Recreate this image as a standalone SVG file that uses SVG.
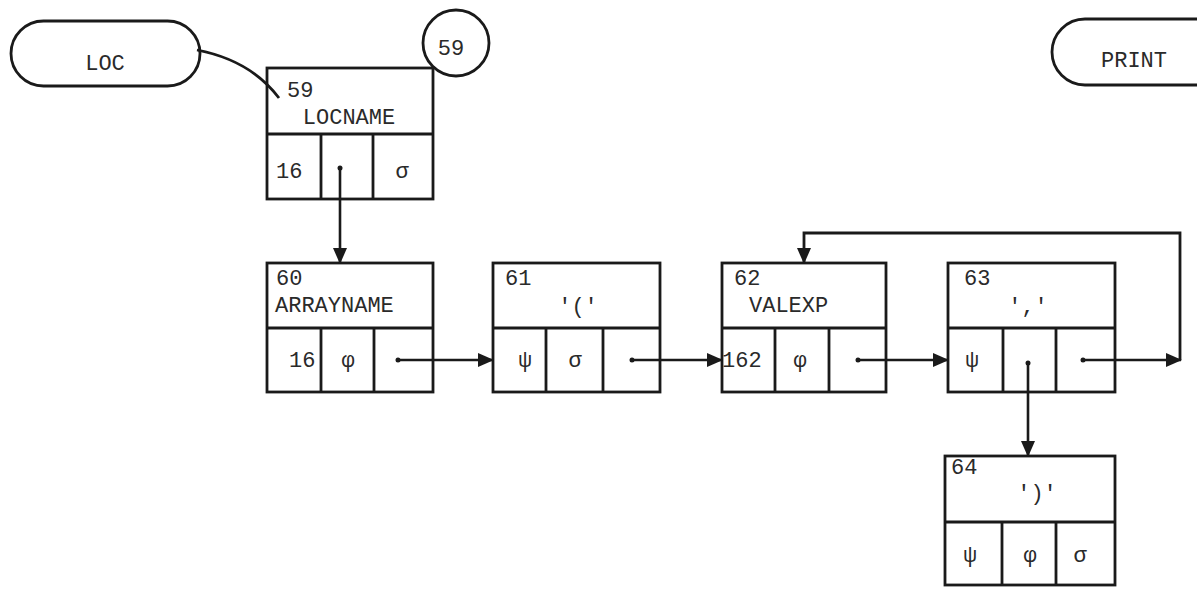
<svg xmlns="http://www.w3.org/2000/svg" width="1197" height="596" viewBox="0 0 1197 596">
<style>
  .box{fill:none;stroke:#1a1a1a;stroke-width:2.8}
  .ln{fill:none;stroke:#1a1a1a;stroke-width:2.8}
  .t{font-family:"Liberation Mono","DejaVu Sans Mono",monospace;font-size:22px;fill:#2a2a2a}
  .m{text-anchor:middle}
  .c{fill:none;stroke:#1a1a1a;stroke-width:2.6;marker-end:url(#ah);marker-start:url(#dot)}
</style>
<defs>
  <marker id="ah" markerUnits="userSpaceOnUse" markerWidth="16" markerHeight="16" viewBox="0 0 16 16" refX="15" refY="8" orient="auto">
    <path d="M0,1 L16,8 L0,15 z" fill="#1a1a1a"/>
  </marker>
  <marker id="dot" markerUnits="userSpaceOnUse" markerWidth="6" markerHeight="6" viewBox="0 0 6 6" refX="3" refY="3">
    <circle cx="3" cy="3" r="2.5" fill="#1a1a1a"/>
  </marker>
</defs>
<g id="loc">
  <rect class="box" x="11" y="21" width="189" height="65" rx="32.5"/>
  <text class="t m" x="105" y="70">LOC</text>
</g>
<g id="print">
  <path class="box" d="M1230,19 L1085,19 A33,33 0 0 0 1085,85 L1230,85"/>
  <text class="t m" x="1134" y="67">PRINT</text>
</g>
<g id="ref59">
  <circle class="box" cx="456" cy="43" r="33"/>
  <text class="t m" x="451" y="55">59</text>
</g>
<g id="n59">
  <rect class="box" x="267" y="68" width="166" height="131"/>
  <path class="ln" d="M267,134 H433 M321,134 V199 M373,134 V199"/>
  <text class="t" x="287" y="97">59</text>
  <text class="t m" x="349" y="124">LOCNAME</text>
  <text class="t" x="276" y="178">16</text>
  <text class="t m" x="402" y="178">σ</text>
</g>
<g id="n60">
  <rect class="box" x="267" y="263" width="166" height="129"/>
  <path class="ln" d="M267,328 H433 M321,328 V392 M374,328 V392"/>
  <text class="t" x="276" y="285">60</text>
  <text class="t" x="275" y="312">ARRAYNAME</text>
  <text class="t" x="289" y="367">16</text>
  <text class="t m" x="348" y="367">φ</text>
</g>
<g id="n61">
  <rect class="box" x="493" y="263" width="167" height="129"/>
  <path class="ln" d="M493,328 H660 M546,328 V392 M603,328 V392"/>
  <text class="t" x="505" y="285">61</text>
  <text class="t m" x="578" y="313">'('</text>
  <text class="t m" x="525" y="367">ψ</text>
  <text class="t m" x="575" y="367">σ</text>
</g>
<g id="n62">
  <rect class="box" x="722" y="263" width="164" height="129"/>
  <path class="ln" d="M722,328 H886 M775,328 V392 M829,328 V392"/>
  <text class="t" x="734" y="285">62</text>
  <text class="t" x="749" y="312">VALEXP</text>
  <text class="t" x="722" y="367">162</text>
  <text class="t m" x="800" y="367">φ</text>
</g>
<g id="n63">
  <rect class="box" x="948" y="263" width="167" height="129"/>
  <path class="ln" d="M948,328 H1115 M1003,328 V392 M1056,328 V392"/>
  <text class="t" x="964" y="285">63</text>
  <text class="t m" x="1028" y="313">','</text>
  <text class="t m" x="972" y="367">ψ</text>
</g>
<g id="n64">
  <rect class="box" x="945" y="456" width="170" height="129"/>
  <path class="ln" d="M945,522 H1115 M1002,522 V585 M1056,522 V585"/>
  <text class="t" x="951" y="474">64</text>
  <text class="t m" x="1037" y="500">')'</text>
  <text class="t m" x="970" y="562">ψ</text>
  <text class="t m" x="1030" y="562">φ</text>
  <text class="t m" x="1080" y="562">σ</text>
</g>
<g id="connectors">
  <path class="ln" d="M197,50 C228,56 258,70 279,98"/>
  <path class="c" d="M340,168 L340,263"/>
  <path class="c" d="M398,360 L493,360"/>
  <path class="c" d="M632,360 L722,360"/>
  <path class="c" d="M858,360 L948,360"/>
  <path class="c" d="M1083,360 L1181,360"/>
  <path class="ln" d="M1180,360 L1180,233 L804,233 L804,263" style="marker-end:url(#ah)"/>
  <path class="c" d="M1028,363 L1028,456"/>
</g>
</svg>
